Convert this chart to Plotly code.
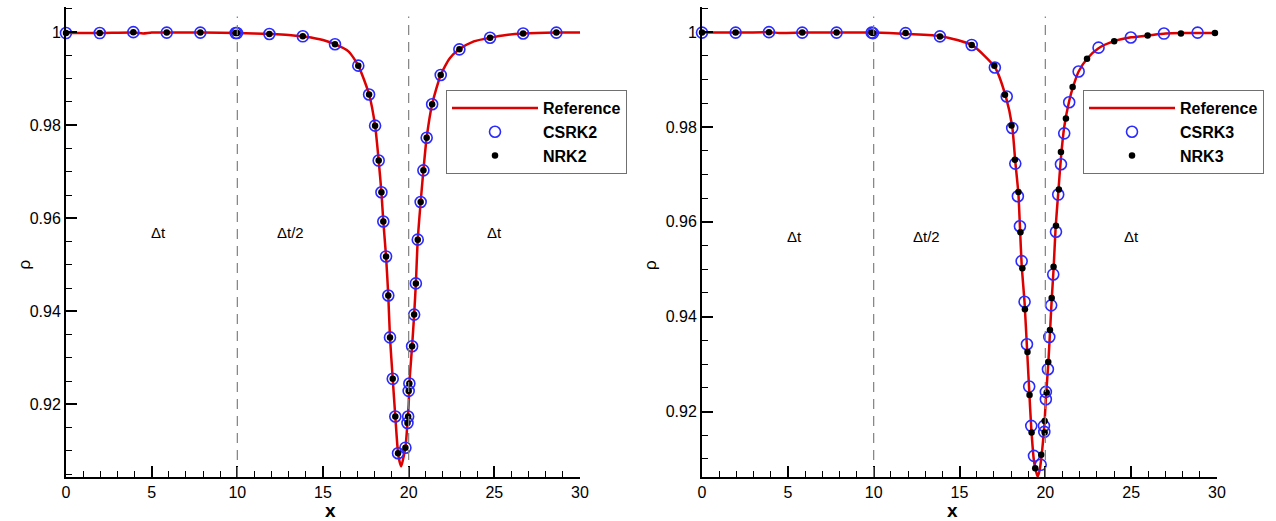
import plotly.graph_objects as go

# ---------------- data: left panel (2nd order) ----------------
ref_x_L = [0, 2, 4, 4.5, 5, 6, 8, 10, 12, 13, 14, 15, 15.7, 16.5, 17.06, 17.69, 18.04, 18.25,
           18.41, 18.52, 18.68, 18.81, 18.91, 19.07, 19.22, 19.38, 19.47, 19.56, 19.66, 19.81,
           19.93, 20.0, 20.04, 20.2, 20.32, 20.42, 20.53, 20.7, 20.86, 21.05, 21.37, 21.87,
           22.4, 22.96, 23.8, 24.75, 25.7, 26.68, 28.62, 30]
ref_y_L = [0.9998, 0.9998, 0.9999, 0.9997, 0.9999, 0.9999, 0.9999, 0.9998, 0.9996, 0.9994,
           0.9990, 0.9983, 0.9974, 0.9958, 0.9928, 0.9866, 0.9799, 0.9724, 0.9656, 0.9593,
           0.9518, 0.9434, 0.9344, 0.9255, 0.9174, 0.9095, 0.9077, 0.9067, 0.9080, 0.9107,
           0.9160, 0.9200, 0.9245, 0.9325, 0.9393, 0.9460, 0.9554, 0.9635, 0.9703, 0.9773,
           0.9845, 0.9908, 0.9944, 0.9963, 0.9980, 0.9988, 0.9994, 0.9997, 0.9999, 0.9999]

mk_x_L = [0, 1.97, 3.93, 5.88, 7.84, 9.90, 9.98, 11.87, 13.82, 15.70, 17.06, 17.69, 18.04,
          18.25, 18.41, 18.52, 18.68, 18.81, 18.91, 19.07, 19.22, 19.38, 19.81, 19.93, 19.97,
          20.00, 20.04, 20.20, 20.32, 20.42, 20.53, 20.70, 20.86, 21.05, 21.37, 21.87, 22.96,
          24.75, 26.68, 28.62]
csrk2_y = [0.9998, 0.9998, 1.0000, 0.9999, 0.9999, 0.9998, 0.9998, 0.9996, 0.9991, 0.9974,
           0.9928, 0.9866, 0.9799, 0.9724, 0.9656, 0.9593, 0.9518, 0.9434, 0.9344, 0.9255,
           0.9174, 0.9095, 0.9107, 0.9160, 0.9174, 0.9229, 0.9245, 0.9325, 0.9393, 0.9460,
           0.9554, 0.9635, 0.9703, 0.9773, 0.9845, 0.9908, 0.9963, 0.9988, 0.9997, 0.9999]
nrk2_y = list(csrk2_y)

# ---------------- data: right panel (3rd order) ----------------
ref_x_R = [0, 2, 4, 4.5, 6, 8, 10, 12, 14, 15.71, 17.06, 17.69, 18.07, 18.25, 18.43, 18.52,
           18.62, 18.79, 18.93, 19.06, 19.18, 19.34, 19.45, 19.55, 19.65, 19.76, 19.94, 20.05,
           20.17, 20.27, 20.37, 20.48, 20.6, 20.75, 20.91, 21.1, 21.39, 21.62, 21.94, 22.43,
           23.1, 24.0, 25.0, 26.0, 27.0, 28.0, 30]
ref_y_R = [0.9999, 0.9999, 1.0, 0.9998, 0.9999, 0.9999, 0.9999, 0.9996, 0.9991, 0.9973,
           0.9926, 0.9865, 0.9801, 0.9727, 0.9660, 0.9590, 0.9510, 0.9430, 0.9335, 0.9245,
           0.9165, 0.9095, 0.9075, 0.9063, 0.9073, 0.9100, 0.9170, 0.9238, 0.9300, 0.9366,
           0.9435, 0.9500, 0.9588, 0.9660, 0.9735, 0.9800, 0.9855, 0.9885, 0.9917, 0.9944,
           0.9966, 0.9981, 0.9989, 0.9993, 0.9997, 0.9998, 0.9998]

csrk3_x = [0, 1.96, 3.9, 5.84, 7.84, 9.88, 9.96, 11.86, 13.86, 15.71, 17.06, 17.75, 18.07,
           18.25, 18.4, 18.52, 18.62, 18.79, 18.93, 19.06, 19.18, 19.34, 19.73, 19.92, 19.94,
           20.03, 20.03, 20.15, 20.23, 20.34, 20.46, 20.62, 20.75, 20.91, 21.1, 21.39, 21.94,
           23.1, 24.98, 26.91, 28.87]
csrk3_y = [0.9999, 0.9999, 1.0, 0.9999, 0.9999, 0.9999, 0.9998, 0.9998, 0.9991, 0.9973,
           0.99255, 0.98644, 0.9798, 0.97228, 0.96539, 0.95908, 0.95171, 0.94316, 0.93418,
           0.92527, 0.91698, 0.91066, 0.90877, 0.91698, 0.91571, 0.92414, 0.9226, 0.92892,
           0.93571, 0.94239, 0.94891, 0.9579, 0.96575, 0.97214, 0.97866, 0.98522, 0.9917,
           0.99673, 0.99886, 0.9997, 0.9999]
nrk3_x = [0, 1.96, 3.9, 5.84, 7.84, 9.88, 9.96, 11.86, 13.86, 15.71, 17.03, 17.65, 18.03,
          18.23, 18.43, 18.55, 18.66, 18.81, 18.96, 19.08, 19.2, 19.41, 19.76, 19.96, 19.96,
          20.08, 20.17, 20.27, 20.37, 20.48, 20.62, 20.79, 20.91, 21.2, 21.59, 22.43, 24.01,
          25.96, 27.9, 29.88]
nrk3_y = [0.9999, 0.9999, 1.0, 0.9999, 0.9999, 0.9999, 0.9998, 0.9998, 0.9991, 0.9973,
          0.9929, 0.9868, 0.9803, 0.9731, 0.9663, 0.9578, 0.9502, 0.94155, 0.93256, 0.9235,
          0.91559, 0.90807, 0.91087, 0.91803, 0.91559, 0.924, 0.93045, 0.93719, 0.94393,
          0.95053, 0.9592, 0.9668, 0.97474, 0.98181, 0.98842, 0.99438, 0.9981, 0.99928,
          0.9997, 0.9998]

region_x = [5.4, 13.1, 25.0]
region_labels = ["\u0394t", "\u0394t/2", "\u0394t"]
region_y = 0.957
divider_x = [10, 20]
y_ticks = [0.92, 0.94, 0.96, 0.98, 1.0]
y_ticktext = ["0.92", "0.94", "0.96", "0.98", "1"]
x_ticks = [0, 5, 10, 15, 20, 25, 30]

RED = "#dd0000"
BLUE = "#2a2aff"
FONT = "Liberation Sans, Arial, Helvetica, sans-serif"

fig = go.Figure()

panels = [
    dict(xa="x", ya="y", leg="legend", ref=(ref_x_L, ref_y_L),
         c=(mk_x_L, csrk2_y), n=(mk_x_L, nrk2_y), names=("CSRK2", "NRK2")),
    dict(xa="x2", ya="y2", leg="legend2", ref=(ref_x_R, ref_y_R),
         c=(csrk3_x, csrk3_y), n=(nrk3_x, nrk3_y), names=("CSRK3", "NRK3")),
]

for p in panels:
    fig.add_trace(go.Scatter(x=p["ref"][0], y=p["ref"][1], mode="lines", name="Reference",
                             line=dict(color=RED, width=2.5, shape="spline", smoothing=0.6),
                             xaxis=p["xa"], yaxis=p["ya"], legend=p["leg"], cliponaxis=True))
    fig.add_trace(go.Scatter(x=p["c"][0], y=p["c"][1], mode="markers", name=p["names"][0],
                             marker=dict(symbol="circle-open", size=11, color=BLUE,
                                         line=dict(width=1.6, color=BLUE)),
                             xaxis=p["xa"], yaxis=p["ya"], legend=p["leg"], cliponaxis=False))
    fig.add_trace(go.Scatter(x=p["n"][0], y=p["n"][1], mode="markers", name=p["names"][1],
                             marker=dict(symbol="circle", size=6.5, color="black"),
                             xaxis=p["xa"], yaxis=p["ya"], legend=p["leg"], cliponaxis=False))

W, H = 1276, 521
ydom = [(521 - 477) / H, (521 - 7) / H]
xdomL = [66 / W, 580 / W]
xdomR = [702 / W, 1217 / W]

def xaxis_cfg(dom, anchor):
    return dict(domain=dom, anchor=anchor, range=[0, 30], tickvals=x_ticks, automargin=False,
                ticks="inside", ticklen=11, tickwidth=2, tickcolor="black",
                showline=True, linecolor="black", linewidth=2, mirror=False,
                showgrid=False, zeroline=False,
                tickfont=dict(family=FONT, size=16, color="black"),
                minor=dict(dtick=1, tick0=0, ticks="inside", ticklen=6, tickwidth=1,
                           tickcolor="black", showgrid=False))

def yaxis_cfg(rng, anchor):
    return dict(domain=ydom, anchor=anchor, range=rng, tickvals=y_ticks, ticktext=y_ticktext,
                automargin=False,
                ticks="inside", ticklen=11, tickwidth=2, tickcolor="black",
                showline=True, linecolor="black", linewidth=2, mirror=False,
                showgrid=False, zeroline=False,
                tickfont=dict(family=FONT, size=16, color="black"),
                minor=dict(dtick=0.005, tick0=0, ticks="inside", ticklen=6, tickwidth=1,
                           tickcolor="black", showgrid=False))

legend_common = dict(yanchor="top", xanchor="left", bgcolor="white",
                     bordercolor="#707070", borderwidth=1, itemwidth=86,
                     font=dict(family=FONT, size=16, color="black", weight="bold"),
                     tracegroupgap=0, itemsizing="trace")

shapes = []
annotations = []
for xa, ya, xcenter, ylab_x in [("x", "y", (66 + 580) / 2 / W, 12 / W),
                                 ("x2", "y2", (702 + 1217) / 2 / W, 650 / W)]:
    for dx in divider_x:
        shapes.append(dict(type="line", xref=xa, yref=ya + " domain", x0=dx, x1=dx, y0=0, y1=0.98,
                           line=dict(color="#808080", width=1.2, dash="10px,7px")))
    for rx, rl in zip(region_x, region_labels):
        annotations.append(dict(x=rx, y=region_y, xref=xa, yref=ya, text=rl, showarrow=False,
                                font=dict(family=FONT, size=15, color="black")))
    annotations.append(dict(x=xcenter, y=(521 - 510) / H, xref="paper", yref="paper",
                            text="<b>x</b>", showarrow=False, yanchor="middle",
                            font=dict(family=FONT, size=19, color="black")))
    annotations.append(dict(x=ylab_x, y=(521 - 265) / H, xref="paper", yref="paper",
                            text="\u03c1", textangle=-90, showarrow=False,
                            font=dict(family=FONT, size=17, color="black")))

fig.update_layout(
    width=W, height=H,
    margin=dict(l=0, r=0, t=0, b=0, autoexpand=False),
    paper_bgcolor="white", plot_bgcolor="white",
    showlegend=True,
    xaxis=xaxis_cfg(xdomL, "y"),
    yaxis=yaxis_cfg([0.9044, 1.0054], "x"),
    xaxis2=xaxis_cfg(xdomR, "y2"),
    yaxis2=yaxis_cfg([0.9062, 1.0053], "x2"),
    legend=dict(x=446 / W, y=1 - 90 / H, **legend_common),
    legend2=dict(x=1083 / W, y=1 - 90 / H, **legend_common),
    shapes=shapes,
    annotations=annotations,
)

fig.write_html("out.html", config={"displayModeBar": False},
               post_script="document.body.style.margin='0';document.body.style.overflow='hidden';")
